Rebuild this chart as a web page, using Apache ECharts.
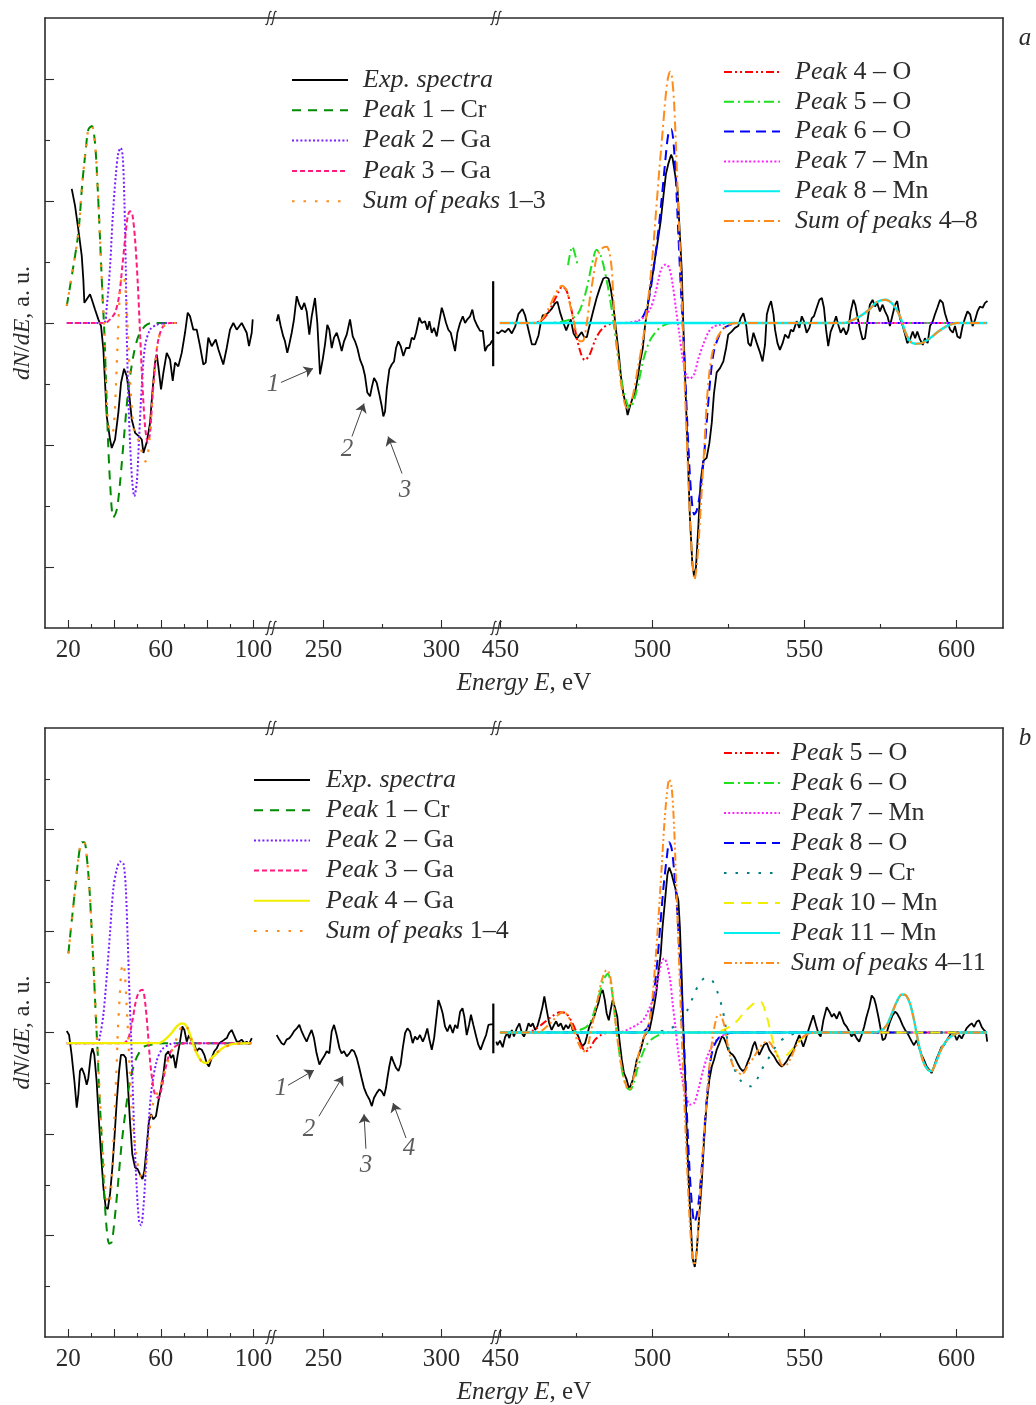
<!DOCTYPE html>
<html><head><meta charset="utf-8">
<script src="https://cdn.jsdelivr.net/npm/echarts@6/dist/echarts.min.js"></script>
<style>html,body{margin:0;padding:0;background:#fff}#c{width:1036px;height:1405px}</style>
</head><body><div id="c"></div>
<script>
// ---------------- DATA (E in eV, dN/dE in a.u.) ----------------
// Panel a, segment 1 (10-108 eV)
const expA1=[[21.55,2.20],[22.98,1.92],[24.40,1.53],[25.87,1.10],[26.56,0.71],[27.0,0.33],[28.03,0.39],[29.46,0.47],[30.19,0.39],[31.61,0.22],[33.04,0.06],[34.2,-0.05],[35.2,-0.43],[35.93,-0.98],[36.67,-1.53],[38.09,-1.91],[38.83,-2.05],[40.25,-1.91],[41.68,-1.47],[42.84,-0.98],[44.14,-0.75],[45.3,-0.87],[46.3,-1.14],[47.46,-1.58],[48.9,-1.80],[50.6,-1.86],[51.8,-1.91],[52.5,-2.13],[53.9,-1.96],[55.36,-1.64],[56.36,-1.14],[57.52,-0.65],[58.26,-0.52],[58.95,-0.71],[60.11,-1.09],[61.1,-0.82],[62.57,-0.49],[64.0,-0.60],[65.16,-0.95],[66.16,-0.65],[67.58,-0.71],[69.05,-0.49],[70.47,-0.16],[71.64,0.17],[72.63,0.11],[74.06,-0.11],[75.53,-0.11],[76.95,-0.38],[78.38,-0.68],[79.41,-0.65],[80.54,-0.24],[82.0,-0.38],[83.73,-0.27],[84.85,-0.43],[87.0,-0.68],[88.48,-0.41],[89.9,-0.11],[91.33,0.0],[92.8,-0.11],[94.96,0.0],[97.1,-0.16],[98.1,-0.38],[99.27,-0.16],[99.7,0.06]];
const p1A=[[19.4,0.28],[22.25,0.93],[24.4,1.48],[26.13,2.30],[27.6,2.84],[28.72,3.17],[30.19,3.23],[31.6,2.95],[32.78,2.19],[33.77,1.37],[34.77,0.50],[35.63,-0.16],[36.36,-0.98],[37.1,-1.80],[38.1,-2.62],[39.52,-3.19],[41.0,-3.06],[42.4,-2.62],[44.27,-1.80],[46.0,-1.09],[48.15,-0.54],[50.3,-0.22],[53.2,-0.05],[56.1,0],[66.9,0]];
const p2A=[[19.4,0],[35.2,0],[36.67,0.28],[38.1,0.93],[39.26,1.75],[40.55,2.41],[41.67,2.79],[42.71,2.87],[43.57,2.73],[44.27,2.03],[44.87,0.93],[45.3,-0.16],[46.0,-1.25],[46.86,-2.07],[47.72,-2.62],[48.58,-2.84],[49.62,-2.62],[50.61,-1.91],[51.78,-1.04],[53.2,-0.38],[55.36,-0.11],[58.26,-0.03],[61.84,0],[66.9,0]];
const p3A=[[19.4,0],[35.93,0],[38.09,0.06],[40.25,0.17],[41.98,0.44],[43.4,0.93],[44.57,1.37],[45.73,1.75],[46.73,1.83],[47.72,1.78],[48.89,1.37],[50.05,0.66],[51.04,-0.16],[52.04,-0.98],[53.2,-1.69],[54.37,-1.96],[55.36,-1.80],[56.36,-1.25],[57.52,-0.71],[58.95,-0.27],[61.1,-0.05],[64.0,0],[66.9,0]];
const sumA13=[[19.4,0.28],[22.25,0.93],[24.4,1.48],[26.13,2.30],[27.6,2.84],[28.72,3.17],[30.19,3.23],[31.6,2.95],[32.78,2.19],[33.77,1.37],[34.77,0.50],[35.63,-0.16],[36.36,-0.98],[37.1,-1.58],[38.09,-1.78],[39.08,-1.81],[39.95,-1.58],[40.68,-0.98],[41.42,-0.27],[42.19,0.39],[43.06,0.75],[43.92,0.78],[44.57,0.63],[45.22,0.30],[46.0,-0.35],[46.86,-1.01],[47.72,-1.50],[48.58,-1.80],[49.75,-1.88],[51.04,-1.99],[52.34,-2.21],[53.33,-2.27],[54.37,-2.16],[55.36,-1.80],[56.36,-1.25],[57.52,-0.71],[58.95,-0.27],[61.1,-0.06],[64.0,0],[66.9,0]];
// Panel a, segment 2 (228-323 eV)
const expA2=[[230.21,0.03],[230.89,0.14],[231.91,-0.05],[233.0,-0.22],[233.73,-0.30],[234.7,-0.49],[235.55,-0.35],[236.57,-0.16],[237.54,0.06],[238.69,0.44],[239.79,0.30],[240.8,0.22],[241.9,0.33],[242.92,0.19],[244.03,-0.19],[245.04,0.11],[246.44,0.41],[247.42,0.0],[248.56,-0.84],[249.7,-0.60],[250.68,-0.35],[251.65,-0.03],[252.5,-0.11],[253.52,-0.41],[254.49,-0.24],[255.64,-0.16],[256.74,-0.30],[257.75,-0.46],[258.73,-0.30],[259.87,-0.19],[261.27,0.06],[262.42,-0.22],[263.39,-0.30],[264.36,-0.41],[265.51,-0.60],[266.65,-0.71],[267.63,-0.87],[268.6,-1.14],[269.75,-1.20],[270.47,-1.06],[271.44,-0.90],[272.58,-0.98],[273.69,-1.17],[274.7,-1.36],[275.38,-1.53],[276.1,-1.45],[276.82,-1.09],[277.92,-0.76],[278.94,-0.68],[279.92,-0.63],[280.76,-0.41],[281.74,-0.30],[282.75,-0.38],[283.86,-0.54],[285.0,-0.41],[286.4,-0.41],[287.42,-0.24],[288.39,-0.27],[289.24,-0.16],[290.64,0.09],[291.65,0.0],[293.05,0.03],[294.03,-0.11],[294.87,0.03],[295.89,-0.16],[296.86,-0.08],[298.0,-0.22],[299.11,0.03],[300.13,0.25],[300.8,0.17],[301.95,0.0],[302.92,-0.11],[303.94,-0.16],[304.79,-0.30],[305.76,-0.46],[306.74,-0.16],[307.88,0.0],[309.03,0.11],[310.0,0.0],[310.97,0.06],[312.12,0.11],[313.09,0.22],[313.94,0.06],[315.21,-0.05],[316.36,-0.13],[317.5,-0.13],[318.47,-0.46],[319.45,-0.38],[320.59,-0.35],[321.3,-0.30],[321.9,-0.28]];
const barA=[[321.9,0.685],[321.9,-0.708]];
// Panel a, segment 3 (448-615 eV)
const expA3=[[448.6,-0.15],[449.3,-0.17],[450.4,-0.12],[451.5,-0.15],[452.6,-0.09],[453.7,-0.17],[454.8,-0.06],[455.9,0.15],[457.2,0.23],[458.1,0.12],[459.2,-0.12],[460.3,-0.35],[461.4,-0.35],[462.5,-0.20],[463.2,0.0],[463.9,0.13],[464.6,0.12],[465.7,0.17],[466.8,0.23],[467.9,0.32],[468.7,0.35],[469.6,0.17],[470.7,0.0],[471.6,-0.12],[472.3,-0.03],[473.1,0.06],[474.0,-0.17],[475.1,-0.26],[475.9,-0.20],[476.7,-0.15],[477.5,-0.23],[478.4,-0.23],[478.9,-0.12],[479.8,0.06],[480.5,0.20],[481.6,0.41],[482.7,0.58],[483.8,0.73],[484.7,0.75],[485.5,0.73],[486.2,0.58],[487.1,0.29],[488.0,-0.12],[488.8,-0.46],[489.6,-0.87],[490.4,-1.16],[491.2,-1.34],[491.8,-1.51],[492.6,-1.36],[493.5,-1.22],[494.2,-1.16],[495.0,-0.93],[495.9,-0.64],[496.8,-0.41],[497.5,-0.06],[498.3,0.23],[499.2,0.58],[500.1,0.81],[500.8,1.05],[501.7,1.34],[502.7,1.68],[503.6,2.09],[504.4,2.44],[505.2,2.61],[506.1,2.76],[506.6,2.70],[507.4,2.44],[508.2,2.21],[508.8,1.63],[509.6,0.87],[510.1,0.0],[510.7,-0.87],[511.5,-2.03],[512.3,-3.19],[513.1,-3.95],[513.7,-4.16],[514.3,-4.0],[515.1,-3.31],[515.8,-2.61],[516.7,-2.26],[517.8,-2.21],[518.7,-1.97],[519.5,-1.63],[520.2,-1.16],[521.1,-0.81],[522.2,-0.74],[523.3,-0.63],[524.2,-0.41],[524.9,-0.19],[526.0,-0.14],[527.1,-0.08],[528.2,-0.05],[529.0,0.08],[529.9,0.16],[530.8,-0.03],[531.5,-0.33],[532.3,-0.38],[533.2,-0.16],[534.3,-0.33],[535.4,-0.49],[536.2,-0.63],[537.0,-0.36],[537.6,0.14],[538.3,0.27],[539.0,0.36],[539.8,0.14],[540.3,-0.11],[541.1,-0.33],[541.9,-0.44],[542.8,-0.33],[543.6,-0.19],[544.7,-0.25],[545.5,-0.11],[546.3,-0.14],[547.4,0.03],[548.3,-0.08],[549.1,0.11],[549.8,0.03],[550.7,-0.16],[551.6,-0.08],[552.4,0.08],[553.1,0.11],[554.0,0.25],[554.9,0.38],[555.7,0.41],[556.4,0.25],[557.1,-0.11],[557.8,-0.38],[558.6,-0.14],[559.5,-0.03],[560.4,0.11],[561.1,-0.03],[561.9,-0.16],[562.8,-0.08],[563.7,-0.19],[564.4,-0.11],[565.2,0.19],[566.1,0.38],[566.7,0.30],[567.4,0.11],[568.3,-0.11],[569.1,-0.27],[569.9,-0.25],[570.7,0.03],[571.5,0.30],[572.4,0.38],[573.2,0.27],[573.9,0.33],[574.8,0.19],[575.7,0.30],[576.5,0.19],[577.3,0.11],[578.1,-0.05],[579.0,0.14],[579.8,0.30],[580.5,0.36],[581.4,0.08],[582.3,-0.05],[583.1,-0.19],[583.8,-0.33],[584.7,-0.27],[585.6,-0.14],[586.4,-0.25],[587.1,-0.14],[588.0,-0.27],[588.9,-0.36],[589.6,-0.25],[590.5,-0.33],[591.3,-0.05],[592.2,0.03],[592.9,0.14],[593.7,0.25],[594.6,0.38],[595.5,0.33],[596.2,0.16],[597.0,0.03],[597.9,-0.11],[598.8,-0.16],[599.5,-0.05],[600.3,-0.22],[601.2,-0.25],[602.0,-0.05],[602.8,0.08],[603.6,0.19],[604.5,0.14],[605.3,-0.05],[606.1,0.05],[606.9,0.19],[607.7,0.27],[608.6,0.25],[609.4,0.33],[610.2,0.36]];
const p4A=[[449.8,0],[460,0],[463,0.03],[465,0.12],[467,0.30],[469,0.50],[470.3,0.60],[471.8,0.52],[473.3,0.22],[474.8,-0.18],[476.3,-0.48],[477.7,-0.61],[479.3,-0.52],[481.2,-0.27],[483.5,-0.09],[486.5,-0.01],[490,0],[610,0]];
const p5A=[[449.8,0],[466,0],[470,0.02],[473,0.06],[475.3,0.14],[477,0.33],[478.5,0.6],[480,0.95],[481.6,1.2],[483,1.1],[484.5,0.8],[486,0.4],[487.2,0],[488.5,-0.5],[490,-1.0],[491.5,-1.3],[492.6,-1.39],[494,-1.25],[495.5,-0.95],[497,-0.6],[499,-0.3],[501.5,-0.12],[504,-0.03],[507,0],[610,0]];
const p5Afrag=[[472.2,0.95],[473.6,1.25],[475.2,0.98]];
const p6A=[[449.8,0],[494,0],[496,0.05],[497.5,0.17],[499,0.45],[500.3,0.87],[501.9,1.51],[503.0,2.03],[504.1,2.61],[505.2,3.1],[506.1,3.18],[506.9,2.96],[507.7,2.32],[508.5,1.45],[509.3,0.58],[510.2,-0.29],[511.0,-1.16],[511.8,-2.03],[512.7,-2.79],[513.7,-3.14],[514.5,-3.08],[515.6,-2.79],[516.9,-2.2],[518.0,-1.51],[519.1,-0.87],[520.2,-0.46],[521.7,-0.23],[523.3,-0.09],[525.5,-0.03],[528,0],[610,0]];
const p7A=[[449.8,0],[490,0],[494.8,0.03],[497,0.09],[499.2,0.23],[500.8,0.46],[501.9,0.7],[503,0.9],[504.4,0.96],[505.5,0.9],[506.6,0.64],[507.7,0.23],[508.8,-0.17],[509.9,-0.58],[511.2,-0.87],[512.3,-0.91],[513.7,-0.84],[515.1,-0.58],[516.7,-0.35],[518.4,-0.15],[520.0,-0.06],[522.2,-0.03],[525,0],[610,0]];
const p8A=[[449.8,0],[563,0],[565,0.03],[568.3,0.11],[571.5,0.23],[573.7,0.34],[576.5,0.38],[579.2,0.30],[581.4,0.11],[583.1,-0.14],[584.7,-0.30],[586.4,-0.34],[588.5,-0.33],[591.3,-0.25],[594.0,-0.14],[596.8,-0.05],[600.1,0],[610,0]];
const sumA48=[[449.8,0],[460,0],[463,0.03],[465.7,0.23],[467.9,0.46],[470.1,0.61],[471.6,0.55],[472.9,0.29],[474.2,0],[475.3,-0.23],[476.2,-0.30],[477.3,-0.28],[478.4,0],[479.4,0.41],[480.5,0.75],[481.6,1.07],[483.3,1.22],[484.9,1.25],[485.8,1.16],[486.6,0.87],[487.3,0.23],[488.2,-0.35],[489.3,-0.87],[490.4,-1.22],[491.5,-1.39],[492.6,-1.36],[493.9,-1.10],[495.3,-0.70],[496.8,-0.29],[497.9,0.12],[499,0.58],[500.1,1.16],[501.2,1.86],[502.3,2.55],[503.4,3.19],[504.2,3.66],[505,4.0],[505.8,4.12],[506.4,4.03],[507.1,3.6],[507.7,2.9],[508.5,1.86],[509.3,0.87],[510,-0.12],[510.7,-1.16],[511.5,-2.2],[512.3,-3.19],[513.1,-3.89],[513.8,-4.21],[514.5,-4.0],[515.3,-3.48],[516.2,-2.73],[517.1,-1.97],[517.8,-1.33],[518.7,-0.81],[519.8,-0.46],[521.1,-0.26],[522.8,-0.12],[524.9,-0.03],[528,0],[563,0],[565,0.03],[568.3,0.11],[571.5,0.23],[573.7,0.34],[576.5,0.38],[579.2,0.30],[581.4,0.11],[583.1,-0.14],[584.7,-0.30],[586.4,-0.34],[588.5,-0.33],[591.3,-0.25],[594.0,-0.14],[596.8,-0.05],[600.1,0],[610,0]];
// Panel b, segment 1
const expB1=[[19.4,0.03],[20.4,-0.05],[21.5,-0.44],[22.7,-0.96],[23.7,-1.48],[24.4,-1.22],[25.1,-0.76],[25.9,-0.70],[27.0,-0.83],[28.0,-1.03],[28.7,-0.90],[29.8,-0.44],[30.5,-0.31],[31.3,-0.44],[32.3,-0.96],[33.3,-1.75],[34.2,-2.40],[35.2,-3.05],[36.2,-3.44],[37.1,-3.48],[38.1,-3.18],[39.1,-2.66],[40.0,-2.07],[41.0,-1.35],[42.0,-0.76],[42.8,-0.44],[43.9,-0.44],[44.9,-0.50],[45.7,-0.96],[46.7,-1.75],[47.7,-2.40],[48.9,-2.66],[50.0,-2.69],[51.0,-2.79],[52.1,-2.89],[52.9,-2.73],[53.9,-2.27],[54.9,-1.75],[55.8,-1.61],[56.8,-1.71],[57.9,-1.65],[59.0,-1.35],[60.1,-1.09],[61.1,-0.83],[62.1,-0.44],[63.3,-0.37],[64.4,-0.50],[65.4,-0.44],[66.4,-0.70],[67.3,-0.44],[68.3,-0.18],[69.3,0.12],[70.2,0.05],[71.2,-0.18],[72.2,-0.05],[73.4,-0.18],[74.5,-0.24],[75.5,-0.37],[76.5,-0.31],[77.7,-0.34],[78.8,-0.44],[79.8,-0.60],[80.8,-0.67],[82.0,-0.50],[83.1,-0.37],[84.2,-0.31],[85.2,-0.21],[86.3,-0.18],[87.5,-0.14],[88.5,-0.11],[89.5,-0.01],[90.6,0.05],[91.6,-0.05],[92.8,-0.18],[93.8,-0.18],[94.9,-0.14],[96.1,-0.21],[97.1,-0.18],[98.1,-0.23],[99.3,-0.11]];
const p1B=[[20.1,1.56],[21.5,2.18],[23.0,2.83],[24.4,3.42],[25.9,3.75],[27.0,3.75],[28.0,3.48],[29.2,2.83],[30.2,1.98],[31.2,1.07],[32.05,0.22],[32.8,-0.44],[33.3,-1.09],[34.1,-1.75],[34.8,-2.40],[35.6,-3.18],[36.7,-3.90],[37.7,-4.16],[38.8,-4.13],[40.0,-3.71],[41.4,-3.05],[42.8,-2.33],[44.6,-1.61],[46.7,-0.96],[48.9,-0.57],[51.0,-0.37],[53.2,-0.27],[57.5,-0.23],[61.8,-0.21],[99.3,-0.21]];
const p2B=[[19.4,-0.21],[32.5,-0.21],[33.8,-0.05],[35.2,0.35],[36.7,1.13],[38.1,1.98],[39.5,2.83],[41.0,3.22],[42.4,3.37],[43.9,3.32],[44.9,2.83],[45.7,1.85],[46.4,0.87],[47.2,-0.11],[47.9,-1.09],[48.6,-2.07],[49.6,-3.05],[50.6,-3.71],[51.5,-3.80],[52.5,-3.44],[53.5,-2.73],[54.6,-1.88],[56.1,-1.09],[58.2,-0.57],[60.4,-0.34],[64.0,-0.23],[67,-0.21],[99.3,-0.21]];
const p3B=[[19.4,-0.21],[43.9,-0.21],[46.0,-0.11],[47.7,0.22],[49.2,0.61],[50.6,0.80],[52.1,0.84],[53.2,0.61],[54.4,0.02],[55.4,-0.57],[56.4,-0.96],[57.5,-1.22],[59.0,-1.29],[60.4,-1.09],[61.8,-0.76],[63.6,-0.44],[65.4,-0.31],[67.6,-0.24],[70.5,-0.21],[99.3,-0.21]];
const p4B=[[19.4,-0.21],[59.0,-0.21],[61.8,-0.14],[64.7,-0.01],[66.9,0.12],[69.0,0.18],[70.5,0.16],[71.9,0.05],[73.6,-0.18],[75.5,-0.41],[77.7,-0.57],[79.8,-0.60],[82.0,-0.50],[84.2,-0.41],[86.3,-0.32],[89.2,-0.25],[92.8,-0.22],[99.3,-0.21]];
const sumB14=[[20.1,1.56],[21.5,2.18],[23.0,2.83],[24.4,3.42],[25.9,3.75],[27.0,3.75],[28.0,3.48],[29.2,2.83],[30.2,1.98],[31.2,1.07],[32.05,0.22],[32.8,-0.44],[33.5,-1.09],[34.2,-1.75],[35.1,-2.40],[35.9,-2.99],[36.8,-3.31],[37.7,-3.38],[38.5,-3.12],[39.2,-2.53],[39.8,-1.88],[40.4,-1.22],[41.0,-0.57],[41.5,0.08],[42.3,0.74],[43.0,1.23],[43.7,1.36],[44.4,1.20],[45.1,0.67],[45.9,-0.05],[46.6,-0.76],[47.3,-1.42],[48.2,-1.94],[49.2,-2.33],[50.3,-2.66],[51.5,-2.86],[52.5,-2.89],[53.5,-2.66],[54.6,-2.14],[55.8,-1.68],[56.9,-1.35],[58.2,-1.22],[59.7,-1.09],[61.1,-0.86],[63.0,-0.57],[64.7,-0.37],[66.9,-0.11],[69.0,0.12],[70.5,0.16],[71.9,0.05],[73.6,-0.18],[75.5,-0.41],[77.7,-0.57],[79.8,-0.60],[82.0,-0.50],[86.3,-0.32],[92.8,-0.22],[99.3,-0.21]];
// Panel b, segment 2
const expB2=[[230.2,-0.05],[231.3,-0.14],[232.3,-0.21],[233.3,-0.24],[234.4,-0.14],[235.6,-0.11],[236.6,-0.05],[237.5,0.02],[238.7,0.08],[239.8,0.15],[240.8,0.02],[241.8,-0.08],[242.9,-0.18],[244.0,-0.05],[245.0,0.05],[246.0,-0.11],[247.1,-0.41],[248.3,-0.63],[249.3,-0.54],[250.3,-0.47],[251.4,-0.37],[252.5,-0.41],[253.5,0.02],[254.5,0.15],[255.6,-0.05],[256.8,-0.31],[257.7,-0.41],[258.7,-0.37],[259.9,-0.47],[261.0,-0.41],[262.0,-0.34],[263.0,-0.37],[264.1,-0.50],[265.2,-0.70],[266.2,-0.90],[267.2,-1.09],[268.3,-1.22],[269.5,-1.32],[270.5,-1.45],[271.4,-1.29],[272.6,-1.19],[273.7,-1.12],[274.7,-1.16],[275.7,-1.25],[276.5,-1.09],[277.1,-0.90],[277.9,-0.67],[278.8,-0.47],[279.6,-0.57],[280.8,-0.70],[281.8,-0.76],[282.7,-0.63],[283.6,-0.31],[284.6,-0.01],[285.6,0.08],[286.7,0.02],[287.8,-0.21],[288.8,-0.08],[289.8,-0.14],[290.9,-0.05],[292.1,-0.18],[293.0,-0.08],[294.0,0.08],[294.9,-0.14],[295.9,-0.34],[296.9,-0.11],[298.0,0.35],[298.7,0.64],[299.7,0.51],[300.5,0.38],[301.5,0.12],[302.5,0.02],[303.6,0.15],[304.8,-0.01],[305.8,0.15],[306.8,0.08],[307.9,0.41],[308.9,0.48],[309.7,0.31],[310.7,-0.05],[311.7,0.15],[312.5,0.35],[313.5,0.15],[314.7,-0.08],[315.6,-0.24],[316.6,-0.34],[317.8,-0.18],[318.9,-0.05],[319.9,0.15],[320.9,0.16],[321.9,0.16]];
const barB=[[321.96,0.57],[321.96,-0.41]];
// Panel b, segment 3
const expB3=[[448.6,-0.18],[449.0,-0.25],[449.8,-0.16],[450.7,-0.29],[451.5,-0.09],[452.2,-0.01],[452.9,-0.11],[453.7,0.05],[454.4,-0.08],[455.3,0.08],[456.2,0.18],[457.0,-0.01],[457.7,-0.08],[458.4,0.02],[459.2,0.18],[459.9,0.12],[460.6,0.18],[461.4,0.05],[462.1,0.12],[463.0,0.31],[463.8,0.51],[464.4,0.71],[465.2,0.44],[466.0,0.18],[466.8,0.05],[467.6,0.15],[468.3,0.22],[469.0,0.12],[469.8,0.18],[470.7,0.05],[471.5,0.15],[472.3,0.08],[473.1,0.18],[474.0,-0.01],[474.8,0.02],[475.6,-0.08],[476.4,-0.21],[477.0,-0.27],[477.8,-0.21],[478.4,-0.08],[479.2,0.12],[480.0,0.22],[480.8,0.31],[481.4,0.44],[482.2,0.58],[482.9,0.77],[483.6,0.84],[484.3,0.64],[484.9,0.38],[485.6,0.24],[486.2,0.44],[486.9,0.64],[487.7,0.48],[488.4,0.31],[489.1,-0.14],[489.9,-0.54],[490.6,-0.80],[491.5,-0.93],[492.3,-1.12],[492.8,-1.09],[493.5,-0.93],[494.2,-0.73],[494.8,-0.54],[495.7,-0.41],[496.4,-0.27],[497.2,-0.08],[498.1,-0.01],[499.0,0.05],[499.7,0.25],[500.5,0.51],[501.2,0.77],[501.9,1.16],[502.7,1.56],[503.3,2.08],[504.1,2.60],[504.9,3.12],[505.5,3.25],[506.3,3.12],[507.1,2.93],[507.7,2.80],[508.5,2.60],[509.0,2.08],[509.6,1.10],[510.1,0.12],[510.7,-0.86],[511.2,-1.84],[511.8,-2.82],[512.6,-3.80],[513.2,-4.46],[513.9,-4.62],[514.5,-4.33],[515.3,-3.67],[516.2,-2.95],[516.9,-2.17],[517.8,-1.39],[518.7,-0.93],[519.5,-0.67],[520.2,-0.54],[521.1,-0.34],[522.0,-0.21],[522.8,-0.08],[523.5,-0.11],[524.2,-0.21],[524.9,-0.34],[525.7,-0.41],[526.4,-0.44],[527.1,-0.50],[527.9,-0.60],[528.8,-0.70],[529.7,-0.76],[530.4,-0.73],[531.2,-0.60],[532.1,-0.47],[533.0,-0.27],[533.7,-0.18],[534.3,-0.31],[535.1,-0.44],[535.9,-0.34],[536.7,-0.24],[537.6,-0.21],[538.4,-0.34],[539.2,-0.41],[540.0,-0.47],[540.9,-0.57],[541.7,-0.63],[542.5,-0.67],[543.3,-0.63],[544.1,-0.57],[545.0,-0.47],[545.8,-0.41],[546.6,-0.31],[547.4,-0.18],[548.3,-0.05],[548.7,-0.08],[549.6,-0.28],[550.5,-0.12],[551.3,0.05],[552.0,0.18],[552.9,0.34],[553.8,0.14],[554.6,-0.02],[555.3,-0.08],[556.2,0.24],[557.3,0.50],[558.2,0.41],[559.0,0.31],[559.7,0.37],[560.6,0.27],[561.5,0.41],[562.2,0.31],[563.0,0.18],[563.9,0.11],[564.8,0.01],[565.5,-0.08],[566.3,-0.02],[567.2,-0.12],[568.0,-0.18],[568.8,-0.05],[569.6,0.11],[570.4,0.31],[571.3,0.50],[572.1,0.73],[572.9,0.67],[573.5,0.54],[574.3,0.31],[575.1,0.05],[575.7,-0.15],[576.5,-0.12],[577.3,0.05],[578.1,0.21],[579.0,0.34],[579.8,0.41],[580.5,0.37],[581.4,0.27],[582.3,0.14],[583.1,0.05],[584.2,-0.05],[585.3,-0.18],[586.0,-0.25],[586.9,-0.15],[587.8,-0.31],[588.5,-0.44],[589.3,-0.54],[590.2,-0.67],[591.1,-0.74],[591.8,-0.80],[592.6,-0.67],[593.5,-0.51],[594.4,-0.38],[595.1,-0.28],[595.9,-0.25],[596.8,-0.15],[597.6,-0.08],[598.4,0.01],[599.2,-0.02],[600.1,-0.15],[600.9,-0.05],[601.7,-0.12],[602.5,-0.02],[603.3,0.08],[604.2,0.14],[605.0,0.18],[605.8,0.11],[606.6,0.21],[607.4,0.24],[608.3,0.11],[609.0,0.05],[609.7,0.01],[610.1,-0.18]];
const p5B=[[449.8,0],[458,0],[461,0.05],[464,0.18],[467,0.32],[469.5,0.40],[471.5,0.38],[473.5,0.2],[475,0],[476.5,-0.25],[478,-0.37],[479.5,-0.3],[481,-0.15],[483,-0.05],[486,0],[610,0]];
const p6B=[[449.8,0],[470,0],[474,0.02],[476,0.05],[478,0.1],[479.5,0.2],[481,0.45],[482.5,0.75],[484,1.05],[485.3,1.16],[486.3,0.95],[487.3,0.5],[488.2,0],[489.2,-0.45],[490.3,-0.85],[491.5,-1.08],[492.6,-1.13],[493.8,-1.0],[495,-0.72],[496.5,-0.45],[498,-0.25],[500,-0.12],[502,-0.05],[504,-0.01],[506,0],[610,0]];
const p7B=[[449.8,0],[488,0],[490.4,0.02],[492.6,0.08],[494.8,0.15],[497,0.25],[499.2,0.51],[500.8,0.77],[501.9,1.10],[503,1.39],[503.8,1.46],[504.7,1.36],[505.8,1.03],[506.6,0.58],[507.5,0.12],[508.5,-0.41],[509.6,-0.86],[511.0,-1.25],[512.3,-1.42],[513.7,-1.39],[515.1,-1.12],[516.7,-0.73],[518.4,-0.41],[520.2,-0.21],[522.2,-0.09],[524.4,-0.03],[527,0],[610,0]];
const p8B=[[449.8,0],[496,0],[497.5,0.04],[498.6,0.12],[500.1,0.64],[501.4,1.29],[502.5,2.08],[503.6,2.86],[504.7,3.45],[505.5,3.75],[506.3,3.62],[507.1,3.19],[507.9,2.60],[508.8,1.69],[509.7,0.64],[510.5,-0.41],[511.2,-1.45],[512.0,-2.50],[512.9,-3.35],[513.8,-3.74],[514.5,-3.61],[515.4,-3.22],[516.4,-2.50],[517.3,-1.71],[518.2,-1.06],[519.1,-0.54],[520.2,-0.27],[521.7,-0.11],[523.3,-0.05],[525.5,-0.01],[528,0],[610,0]];
const p9B=[[449.8,0],[500,0],[505.8,0.08],[508.5,0.18],[511.2,0.41],[513.4,0.71],[515.1,0.93],[517.3,1.07],[519.5,1.03],[521.1,0.84],[522.8,0.51],[523.9,0.18],[524.9,-0.27],[526.6,-0.67],[528.8,-0.93],[530.4,-1.03],[532.3,-1.06],[534.3,-0.93],[535.9,-0.73],[537.6,-0.57],[539.8,-0.34],[541.9,-0.18],[544.1,-0.08],[546.3,-0.03],[549,0],[610,0]];
const p10B=[[449.8,0],[520,0],[522,0.02],[525.5,0.12],[527.7,0.22],[529.9,0.38],[532.1,0.51],[534.3,0.6],[535.6,0.6],[537.6,0.31],[539.2,-0.08],[540.6,-0.38],[542,-0.52],[543.5,-0.48],[546.3,-0.31],[548.5,-0.15],[550.7,-0.05],[553,0],[610,0]];
const p11B=[[449.8,0],[572,0],[575,0.03],[577.0,0.14],[578.7,0.37],[580.3,0.60],[582,0.75],[583.4,0.73],[584.7,0.57],[585.8,0.31],[586.9,-0.02],[588,-0.35],[589.3,-0.61],[590.7,-0.74],[591.8,-0.76],[592.9,-0.64],[594.4,-0.41],[595.7,-0.25],[597.3,-0.12],[599,-0.05],[601.2,0],[610,0]];
const sumB411=[[449.8,0],[460,0],[463,0.02],[466.3,0.18],[469,0.35],[470.7,0.41],[472.3,0.31],[474,0.05],[475.6,-0.21],[477.3,-0.37],[478.4,-0.34],[479.4,-0.08],[480.5,0.25],[481.9,0.64],[483.3,1.03],[484.9,1.23],[485.8,1.16],[486.6,0.90],[487.3,0.51],[488.2,-0.01],[489.1,-0.41],[490,-0.73],[491,-0.99],[492.1,-1.12],[492.8,-1.09],[493.9,-0.86],[495,-0.54],[496.1,-0.27],[497.2,-0.08],[498.6,0.12],[499.7,0.51],[500.8,1.29],[501.9,2.21],[503,3.25],[503.8,4.04],[504.7,4.69],[505.5,4.99],[506.3,4.82],[507.1,4.04],[507.7,3.06],[508.5,1.75],[509.3,0.44],[509.9,-0.54],[510.7,-1.71],[511.5,-2.82],[512.3,-3.80],[513.1,-4.39],[513.8,-4.59],[514.5,-4.33],[515.4,-3.48],[516.4,-2.50],[517.3,-1.71],[518.2,-1.06],[518.9,-0.54],[519.8,-0.08],[520.6,0.18],[521.3,0.33],[522.2,0.35],[523.1,0.25],[523.9,0.05],[524.6,-0.21],[525.5,-0.47],[526.6,-0.67],[527.9,-0.76],[529.3,-0.83],[530.4,-0.76],[531.5,-0.63],[533.2,-0.50],[534.8,-0.34],[536.5,-0.21],[538.1,-0.18],[539.8,-0.31],[541.4,-0.50],[542.8,-0.65],[544.1,-0.64],[545.5,-0.50],[547.4,-0.25],[549.6,-0.08],[551.8,-0.02],[554,0],[574,0],[577.0,0.14],[578.7,0.37],[580.3,0.60],[582,0.75],[583.4,0.73],[584.7,0.57],[585.8,0.31],[586.9,-0.02],[588,-0.35],[589.3,-0.61],[590.7,-0.74],[591.8,-0.76],[592.9,-0.64],[594.4,-0.41],[595.7,-0.25],[597.3,-0.12],[599,-0.05],[601.2,0],[610,0]];
// Annotation arrows (segment 2): [label, labelE, labelV, fromE, fromV, toE, toV]
const notesA=[['1',228.6,-1.01,232.0,-0.975,245.6,-0.746],['2',260.0,-2.07,262.1,-1.86,267.2,-1.32],['3',284.6,-2.75,283.3,-2.467,277.4,-1.861]];
const notesB=[['1',232.0,-1.10,235.0,-1.04,246.0,-0.745],['2',243.9,-1.90,248.1,-1.65,258.3,-0.86],['3',268.0,-2.61,268.0,-2.29,267.2,-1.61],['4',286.3,-2.29,285.0,-2.08,279.5,-1.39]];
// Axis tick values
const segTicks=[{min:10,max:107.6,major:[20,40,60,80,100],minor:[30,50,70,90],labels:[20,60,100]},
                {min:227.8,max:323.1,major:[250,300],minor:[275],labels:[250,300]},
                {min:448.5,max:615.3,major:[450,500,550,600],minor:[475,525,575],labels:[450,500,550,600]}];
const yTicks=[{min:-5,max:5,major:[-4,-2,0,2,4],minor:[-3,-1,1,3]},{min:-6,max:6,major:[-4,-2,0,2,4],minor:[-5,-3,-1,1,3,5]}];

// ---------------- CHART ----------------
const FONT='"Liberation Serif","Times New Roman",serif';
const INK='#2b2b2b';
const segBox=[{left:45,width:226},{left:271,width:225},{left:496,width:507}];
const panelBox=[{top:18,height:610},{top:728,height:609}];
const grid=[],xAxis=[],yAxis=[],series=[],XM=[],YM=[];
panelBox.forEach((P,pi)=>{
  segBox.forEach((S,si)=>{
    const g=grid.length, T=segTicks[si], Y=yTicks[pi];
    grid.push({left:S.left,width:S.width,top:P.top,height:P.height});
    XM[g]=xAxis.length;
    xAxis.push({type:'value',gridIndex:g,min:T.min,max:T.max,position:'bottom',
      axisLine:{show:true,onZero:false,lineStyle:{color:INK,width:1.6}},
      axisTick:{show:true,inside:true,length:8,customValues:T.major,lineStyle:{color:INK,width:1.1}},
      axisLabel:{show:true,customValues:T.labels,margin:10,fontFamily:FONT,fontSize:25,color:INK},
      splitLine:{show:false}});
    xAxis.push({type:'value',gridIndex:g,min:T.min,max:T.max,position:'bottom',offset:0,
      axisLine:{show:false,onZero:false},
      axisTick:{show:true,inside:true,length:4,customValues:T.minor,lineStyle:{color:INK,width:1.1}},
      axisLabel:{show:false},splitLine:{show:false}});
    xAxis.push({type:'value',gridIndex:g,min:T.min,max:T.max,position:'top',
      axisLine:{show:true,onZero:false,lineStyle:{color:INK,width:1.6}},
      axisTick:{show:false},axisLabel:{show:false},splitLine:{show:false}});
    YM[g]=yAxis.length;
    const y={type:'value',gridIndex:g,min:Y.min,max:Y.max,splitLine:{show:false},axisLabel:{show:false}};
    if(si===0){
      Object.assign(y,{position:'left',axisLine:{show:true,onZero:false,lineStyle:{color:INK,width:1.6}},
        axisTick:{show:true,inside:true,length:9,customValues:Y.major,lineStyle:{color:INK,width:1.1}},
        name:'{i|dN}/{i|dE}, a. u.',nameLocation:'middle',nameGap:10,nameRotate:90,
        nameTextStyle:{fontFamily:FONT,fontSize:24,color:INK,rich:{i:{fontFamily:FONT,fontSize:24,color:INK,fontStyle:'italic'}}}});
      yAxis.push(y);
      yAxis.push({type:'value',gridIndex:g,min:Y.min,max:Y.max,position:'left',offset:0,splitLine:{show:false},axisLabel:{show:false},
        axisLine:{show:false,onZero:false},axisTick:{show:true,inside:true,length:5,customValues:Y.minor,lineStyle:{color:INK,width:1.1}}});
    } else if(si===2){
      Object.assign(y,{position:'right',axisLine:{show:true,onZero:false,lineStyle:{color:INK,width:1.6}},axisTick:{show:false}});
      yAxis.push(y);
    } else {
      Object.assign(y,{show:false});
      yAxis.push(y);
    }
  });
});
function L(g,name,data,color,type,smooth,width,z){
  return {type:'line',name,xAxisIndex:XM[g],yAxisIndex:YM[g],data,showSymbol:false,symbol:'none',
    smooth:smooth?0.3:false,lineStyle:{color,width:width||2,type},itemStyle:{color},z:z||3,silent:true,animation:false};
}
function arrows(s,notes){
  s.markLine={silent:true,animation:false,symbol:['none','arrow'],symbolSize:9,label:{show:false},
    lineStyle:{color:'#444',width:1,type:'solid'},itemStyle:{color:'#444'},
    data:notes.map(n=>[{coord:[n[3],n[4]]},{coord:[n[5],n[6]]}])};
  return s;
}
const C={exp:'#000000',green:'#008a00',purple:'#7a1fff',pink:'#ff1a80',orange:'#ff8c1a',red:'#ff0000',lime:'#1fe01f',blue:'#0000ff',mag:'#ff22ff',cyan:'#00eeee',yellow:'#f2ee00',teal:'#008080'};
const D={dash:[9,7],dot:[2,2.2],sdash:[5,3],sdot:[2.5,9],dd2:[8,3,2,3,2,3],dd:[10,4,2,4],bdash:[10,6],ydash:[10,7]};
// Panel a
series.push(L(0,'a:exp',expA1,C.exp,'solid',false,1.8,2));
series.push(arrows(L(1,'a:exp',expA2,C.exp,'solid',false,1.8,2),notesA));
series.push(L(1,'a:bar',barA,C.exp,'solid',false,2.2,2));
series.push(L(2,'a:exp',expA3,C.exp,'solid',false,1.8,2));
series.push(L(0,'a:p1',p1A,C.green,D.dash,true));
series.push(L(0,'a:p2',p2A,C.purple,D.dot,true));
series.push(L(0,'a:p3',p3A,C.pink,D.sdash,true));
series.push(L(0,'a:s13',sumA13,C.orange,D.sdot,true,2.2,4));
series.push(L(2,'a:p4',p4A,C.red,D.dd2,true));
series.push(L(2,'a:p5',p5A,C.lime,D.dd,true));
series.push(L(2,'a:p5f',p5Afrag,C.lime,D.dd,true));
series.push(L(2,'a:p6',p6A,C.blue,D.bdash,true));
series.push(L(2,'a:p7',p7A,C.mag,D.dot,true));
series.push(L(2,'a:p8',p8A,C.cyan,'solid',true,2.4));
series.push(L(2,'a:s48',sumA48,C.orange,D.dd,true,2,4));
// Panel b
series.push(L(3,'b:exp',expB1,C.exp,'solid',false,1.8,2));
series.push(arrows(L(4,'b:exp',expB2,C.exp,'solid',false,1.8,2),notesB));
series.push(L(4,'b:bar',barB,C.exp,'solid',false,2.2,2));
series.push(L(5,'b:exp',expB3,C.exp,'solid',false,1.8,2));
series.push(L(3,'b:p1',p1B,C.green,D.dash,true));
series.push(L(3,'b:p2',p2B,C.purple,D.dot,true));
series.push(L(3,'b:p3',p3B,C.pink,D.sdash,true));
series.push(L(3,'b:p4',p4B,C.yellow,'solid',true,2.4));
series.push(L(3,'b:s14',sumB14,C.orange,D.sdot,true,2.2,4));
series.push(L(5,'b:p5',p5B,C.red,D.dd2,true));
series.push(L(5,'b:p6',p6B,C.lime,D.dd,true));
series.push(L(5,'b:p7',p7B,C.mag,D.dot,true));
series.push(L(5,'b:p8',p8B,C.blue,D.bdash,true));
series.push(L(5,'b:p9',p9B,C.teal,D.sdot,true));
series.push(L(5,'b:p10',p10B,C.yellow,D.ydash,true));
series.push(L(5,'b:p11',p11B,C.cyan,'solid',true,2.4));
series.push(L(5,'b:s411',sumB411,C.orange,D.dd2,true,2,4));
// annotation numbers
[[1,notesA],[4,notesB]].forEach(([g,notes])=>{
  series.push({type:'scatter',name:'notes'+g,xAxisIndex:XM[g],yAxisIndex:YM[g],symbol:'circle',symbolSize:2,
    itemStyle:{color:'rgba(255,255,255,0)'},silent:true,animation:false,z:10,
    data:notes.map(n=>({name:n[0],value:[n[1],n[2]]})),
    label:{show:true,position:'inside',formatter:'{b}',fontFamily:FONT,fontSize:25,fontStyle:'italic',color:'#333'}});
});
const LEG={'a:exp':'{g|}{i|Exp. spectra}','a:p1':'{g|}{i|Peak} 1 – Cr','a:p2':'{g|}{i|Peak} 2 – Ga','a:p3':'{g|}{i|Peak} 3 – Ga','a:s13':'{g|}{i|Sum of peaks} 1–3',
 'a:p4':'{g|}{i|Peak} 4 – O','a:p5':'{g|}{i|Peak} 5 – O','a:p6':'{g|}{i|Peak} 6 – O','a:p7':'{g|}{i|Peak} 7 – Mn','a:p8':'{g|}{i|Peak} 8 – Mn','a:s48':'{g|}{i|Sum of peaks} 4–8',
 'b:exp':'{h|}{i|Exp. spectra}','b:p1':'{h|}{i|Peak} 1 – Cr','b:p2':'{h|}{i|Peak} 2 – Ga','b:p3':'{h|}{i|Peak} 3 – Ga','b:p4':'{h|}{i|Peak} 4 – Ga','b:s14':'{h|}{i|Sum of peaks} 1–4',
 'b:p5':'{k|}{i|Peak} 5 – O','b:p6':'{k|}{i|Peak} 6 – O','b:p7':'{k|}{i|Peak} 7 – Mn','b:p8':'{k|}{i|Peak} 8 – O','b:p9':'{k|}{i|Peak} 9 – Cr','b:p10':'{k|}{i|Peak} 10 – Mn','b:p11':'{k|}{i|Peak} 11 – Mn','b:s411':'{k|}{i|Sum of peaks} 4–11'};
function legend(left,top,names,gap){
  return {show:true,orient:'vertical',left,top,padding:0,itemGap:gap,itemWidth:56,itemHeight:14,data:names,selectedMode:false,
    formatter:n=>LEG[n],itemStyle:{opacity:0},
    textStyle:{fontFamily:FONT,fontSize:26,color:INK,lineHeight:26,
      rich:{i:{fontFamily:FONT,fontSize:26,color:INK,fontStyle:'italic',lineHeight:26},g:{width:10},h:{width:11},k:{width:6}}}};
}
const legends=[legend(291,67,['a:exp','a:p1','a:p2','a:p3','a:s13'],4.3),
  legend(723,59,['a:p4','a:p5','a:p6','a:p7','a:p8','a:s48'],3.8),
  legend(253,767,['b:exp','b:p1','b:p2','b:p3','b:p4','b:s14'],4.2),
  legend(723,740,['b:p5','b:p6','b:p7','b:p8','b:p9','b:p10','b:p11','b:s411'],4.0)];
function brk(x,y){
  return [-2.5,2.5].map(d=>({type:'bezierCurve',silent:true,z:100,
    shape:{x1:x+d+3,y1:y-6,cpx1:x+d,cpy1:y-11,cpx2:x+d,cpy2:y+11,x2:x+d-3,y2:y+6},
    style:{stroke:INK,lineWidth:1.2,fill:null}}));
}
const graphics=[];
[[271,18],[496,18],[271,628],[496,628],[271,728],[496,728],[271,1337],[496,1337]].forEach(p=>graphics.push(...brk(p[0],p[1])));
function txt(x,y,text){return {type:'text',x,y,silent:true,z:100,style:{text,fill:INK,fontFamily:FONT,fontSize:25,align:'center',verticalAlign:'middle',
  rich:{i:{fontStyle:'italic',fontFamily:FONT,fontSize:25,fill:INK}}}};}
graphics.push(txt(524,683,'{i|Energy E}, eV'),txt(524,1392,'{i|Energy E}, eV'),txt(1025,38,'{i|a}'),txt(1025,738,'{i|b}'));
const chart=echarts.init(document.getElementById('c'));
chart.setOption({animation:false,backgroundColor:'#fff',grid,xAxis,yAxis,series,legend:legends,graphic:graphics});
</script></body></html>
